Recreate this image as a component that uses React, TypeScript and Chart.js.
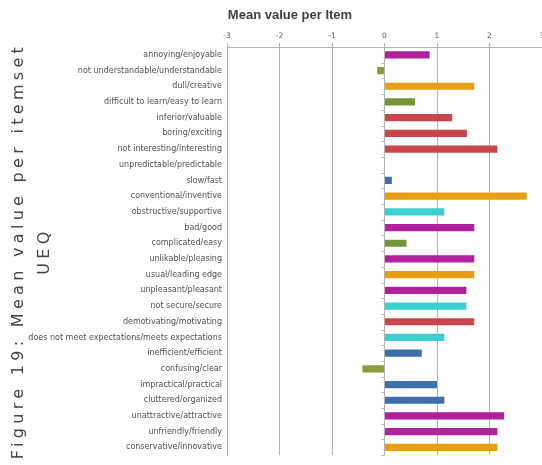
import React, { useEffect, useRef } from "react";
import { Chart, registerables } from "chart.js";

Chart.register(...registerables);

const items: string[] = [
  "annoying/enjoyable",
  "not understandable/understandable",
  "dull/creative",
  "difficult to learn/easy to learn",
  "inferior/valuable",
  "boring/exciting",
  "not interesting/interesting",
  "unpredictable/predictable",
  "slow/fast",
  "conventional/inventive",
  "obstructive/supportive",
  "bad/good",
  "complicated/easy",
  "unlikable/pleasing",
  "usual/leading edge",
  "unpleasant/pleasant",
  "not secure/secure",
  "demotivating/motivating",
  "does not meet expectations/meets expectations",
  "inefficient/efficient",
  "confusing/clear",
  "impractical/practical",
  "cluttered/organized",
  "unattractive/attractive",
  "unfriendly/friendly",
  "conservative/innovative",
];

const meanValues: number[] = [
  0.86, -0.14, 1.71, 0.58, 1.29, 1.57, 2.15, 0.0, 0.14, 2.71, 1.14, 1.71, 0.42,
  1.71, 1.71, 1.56, 1.56, 1.71, 1.14, 0.71, -0.42, 1.0, 1.14, 2.28, 2.15, 2.15,
];

const PURPLE = "#b0219b";
const OLIVE = "#8a9a35";
const ORANGE = "#e69f12";
const RED = "#c9474a";
const BLUE = "#3d70ab";
const CYAN = "#3ccfcf";
const GREEN = "#76963a";

const barColors: string[] = [
  PURPLE, OLIVE, ORANGE, GREEN, RED, RED, RED, BLUE, BLUE, ORANGE, CYAN, PURPLE,
  GREEN, PURPLE, ORANGE, PURPLE, CYAN, RED, CYAN, BLUE, OLIVE, BLUE, BLUE,
  PURPLE, PURPLE, ORANGE,
];

const xTicks: number[] = [-3, -2, -1, 0, 1, 2, 3];
const chartTitle = "Mean value per Item";
const captionLine1 = "Figure 19: Mean value per itemset";
const captionLine2 = "UEQ";

export default function App() {
  const canvasRef = useRef<HTMLCanvasElement | null>(null);

  useEffect(() => {
    const canvas = canvasRef.current;
    if (!canvas) return;

    const titlePlugin = {
      id: "customTitle",
      afterDraw(chart: any) {
        const ctx = chart.ctx;
        ctx.save();
        ctx.font = "bold 13px 'Liberation Sans', Arial, sans-serif";
        ctx.fillStyle = "#404040";
        ctx.textAlign = "center";
        ctx.textBaseline = "middle";
        ctx.fillText(chartTitle, 290, 15);
        ctx.restore();
      },
    };

    const zeroTicksPlugin = {
      id: "zeroTicks",
      beforeDatasetsDraw(chart: any) {
        const ctx = chart.ctx;
        const xs = chart.scales.x;
        const ys = chart.scales.y;
        const x0 = xs.getPixelForValue(0);
        const step = ys.getPixelForValue(1) - ys.getPixelForValue(0);
        ctx.save();
        ctx.strokeStyle = "#b8b8b8";
        ctx.lineWidth = 1;
        for (let i = 0; i <= items.length; i++) {
          const y = Math.round(ys.getPixelForValue(i) - step / 2) + 0.5;
          ctx.beginPath();
          ctx.moveTo(x0 - 3, y);
          ctx.lineTo(x0, y);
          ctx.stroke();
        }
        ctx.restore();
      },
    };

    const chart = new Chart(canvas, {
      type: "bar",
      data: {
        labels: items,
        datasets: [
          {
            data: meanValues,
            backgroundColor: barColors,
            borderWidth: 0,
            barPercentage: 0.46,
            categoryPercentage: 1,
          },
        ],
      },
      options: {
        indexAxis: "y",
        responsive: false,
        animation: false,
        layout: { padding: { left: 0, right: 18, top: 0, bottom: 2 } },
        plugins: {
          legend: { display: false },
          tooltip: { enabled: false },
          title: { display: false },
        },
        scales: {
          x: {
            position: "top",
            min: -3,
            max: 3,
            afterBuildTicks(scale: any) {
              scale.ticks = xTicks.map((v) => ({ value: v }));
            },
            afterFit(scale: any) {
              scale.height = 47;
            },
            grid: {
              color: "#b3b3b3",
              lineWidth: 1,
              drawTicks: true,
              tickLength: 4,
            },
            border: { display: true, color: "#b3b3b3" },
            ticks: {
              padding: 2,
              color: "#595959",
              font: { size: 7.5, family: "'DejaVu Sans', sans-serif" },
            },
          },
          y: {
            afterFit(scale: any) {
              scale.width = 227;
            },
            grid: { display: false, drawTicks: false },
            border: { display: true, color: "#b3b3b3" },
            ticks: {
              padding: 5,
              autoSkip: false,
              color: "#505050",
              font: { size: 8, family: "'DejaVu Sans', sans-serif" },
            },
          },
        },
      },
      plugins: [zeroTicksPlugin, titlePlugin],
    });

    return () => chart.destroy();
  }, []);

  return (
    <div
      style={{
        position: "fixed",
        left: 0,
        top: 0,
        width: 542,
        height: 465,
        overflow: "hidden",
        background: "#ffffff",
      }}
    >
      <canvas
        ref={canvasRef}
        width={560}
        height={465}
        style={{ position: "absolute", left: 0, top: 0, width: 560, height: 465 }}
      />
      <div
        style={{
          position: "absolute",
          left: 31 - 230,
          top: 251 - 26,
          width: 460,
          height: 52,
          lineHeight: "26px",
          textAlign: "center",
          fontFamily: "'DejaVu Sans', sans-serif",
          fontSize: 16,
          letterSpacing: "4.3px",
          color: "#444444",
          transform: "rotate(-90deg)",
          transformOrigin: "50% 50%",
          whiteSpace: "nowrap",
        }}
      >
        <div>{captionLine1}</div>
        <div>{captionLine2}</div>
      </div>
    </div>
  );
}
